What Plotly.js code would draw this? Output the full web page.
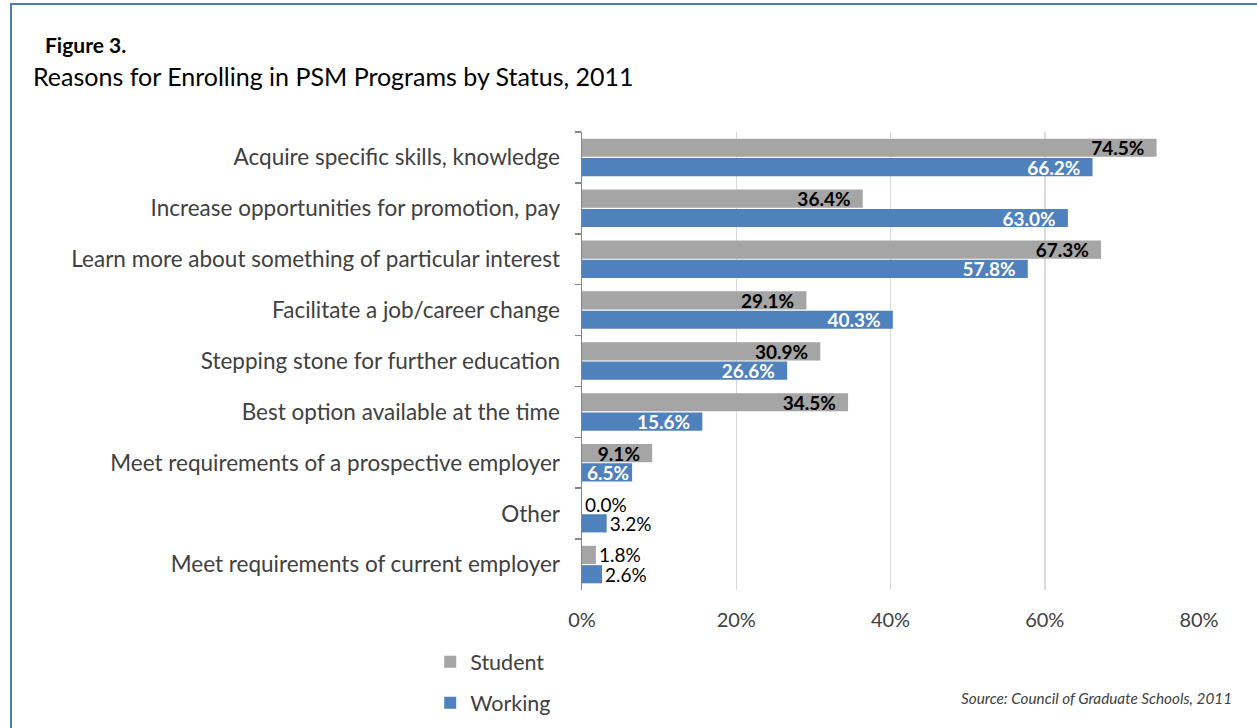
<!DOCTYPE html>
<html>
<head>
<meta charset="utf-8">
<script src="https://cdn.plot.ly/plotly-3.0.1.min.js"></script>
<style>
html,body{margin:0;padding:0;background:#fff;}
#wrap{position:relative;width:1257px;height:728px;}
#chart{position:absolute;left:0;top:0;width:1257px;height:728px;}
#frame{position:absolute;left:10px;top:3px;width:1257px;height:740px;border-top:2px solid #4a7ebb;border-left:2px solid #4a7ebb;pointer-events:none;}
</style>
</head>
<body>
<div id="wrap"><div id="chart"></div><div id="frame"></div></div>
<script>
const categories = [
  "Acquire specific skills, knowledge",
  "Increase opportunities for promotion, pay",
  "Learn more about something of particular interest",
  "Facilitate a job/career change",
  "Stepping stone for further education",
  "Best option available at the time",
  "Meet requirements of a prospective employer",
  "Other",
  "Meet requirements of current employer"
];
const student = [74.5, 36.4, 67.3, 29.1, 30.9, 34.5, 9.1, 0.0, 1.8];
const working = [66.2, 63.0, 57.8, 40.3, 26.6, 15.6, 6.5, 3.2, 2.6];
const xTicks = [0, 20, 40, 60, 80];
const seriesNames = ["Student", "Working"];
const seriesColors = ["#a5a5a5", "#4f81bd"];

const FONT = "Lato, 'Open Sans', sans-serif";
const NB = "\u00a0";
function labels(vals, insideColor) {
  const text = [], pos = [], col = [];
  vals.forEach(v => {
    const s = v.toFixed(1) + "%";
    if (v >= 5) {
      const pad = v >= 8 ? NB + NB : "";
      text.push("<b>" + s + pad + "</b>"); pos.push("inside"); col.push(insideColor);
    } else { text.push(s); pos.push("outside"); col.push("#000"); }
  });
  return {text, pos, col};
}
const ls = labels(student, "#000");
const lw = labels(working, "#fff");

const traces = [
  {type:"bar", orientation:"h", name:seriesNames[0], y:categories, x:student,
   marker:{color:seriesColors[0]}, text:ls.text, textposition:ls.pos, constraintext:"none",
   insidetextanchor:"end", textfont:{color:ls.col, size:19, family:FONT},
   cliponaxis:false, legendgroup:"a", hoverinfo:"skip"},
  {type:"bar", orientation:"h", name:seriesNames[1], y:categories, x:working,
   marker:{color:seriesColors[1]}, text:lw.text, textposition:lw.pos, constraintext:"none",
   insidetextanchor:"end", textfont:{color:lw.col, size:19, family:FONT},
   cliponaxis:false, legendgroup:"b", hoverinfo:"skip"}
];

const layout = {
  width:1257, height:728,
  margin:{l:582, r:58, t:132, b:138, autoexpand:false},
  paper_bgcolor:"#fff", plot_bgcolor:"#fff",
  font:{family:FONT, color:"#404040", size:20},
  barmode:"group", bargap:0.24, bargroupgap:0.06,
  showlegend:true,
  legend:{x:-0.246, xanchor:"left", y:-0.112, yanchor:"top",
          font:{size:21.5, color:"#404040"}, tracegroupgap:10, traceorder:"grouped"},
  xaxis:{range:[0,80], tickvals:xTicks, ticktext:xTicks.map(v=>v+"%"),
         showgrid:true, gridcolor:"#d9d9d9", gridwidth:1.5, zeroline:false,
         showline:false, ticks:"", tickfont:{size:20, color:"#404040"}, ticklabelstandoff:16, fixedrange:true},
  yaxis:{type:"category", autorange:"reversed", showline:true, linecolor:"#868686", linewidth:1.5,
         ticks:"outside", ticklen:6, tickcolor:"#868686", tickwidth:1.5, tickson:"boundaries",
         showgrid:false, tickfont:{size:22.5, color:"#404040"}, ticklabelstandoff:16, fixedrange:true},
  annotations:[
    {xref:"paper", yref:"paper", x:(43-582)/617, y:(590-45)/458, xanchor:"left", yanchor:"middle",
     text:"<b>Figure 3.</b>", showarrow:false, font:{size:21, color:"#000"}},
    {xref:"paper", yref:"paper", x:(31-582)/617, y:(590-76)/458, xanchor:"left", yanchor:"middle",
     text:"Reasons for Enrolling in PSM Programs by Status, 2011", showarrow:false, font:{size:25, color:"#000"}},
    {xref:"paper", yref:"paper", x:(1234-582)/617, y:(590-698)/458, xanchor:"right", yanchor:"middle",
     text:"<i>Source: Council of Graduate Schools, 2011</i>", showarrow:false, font:{size:15.3, color:"#404040"}}
  ]
};
Plotly.newPlot("chart", traces, layout, {displayModeBar:false, staticPlot:true});
</script>
</body>
</html>
